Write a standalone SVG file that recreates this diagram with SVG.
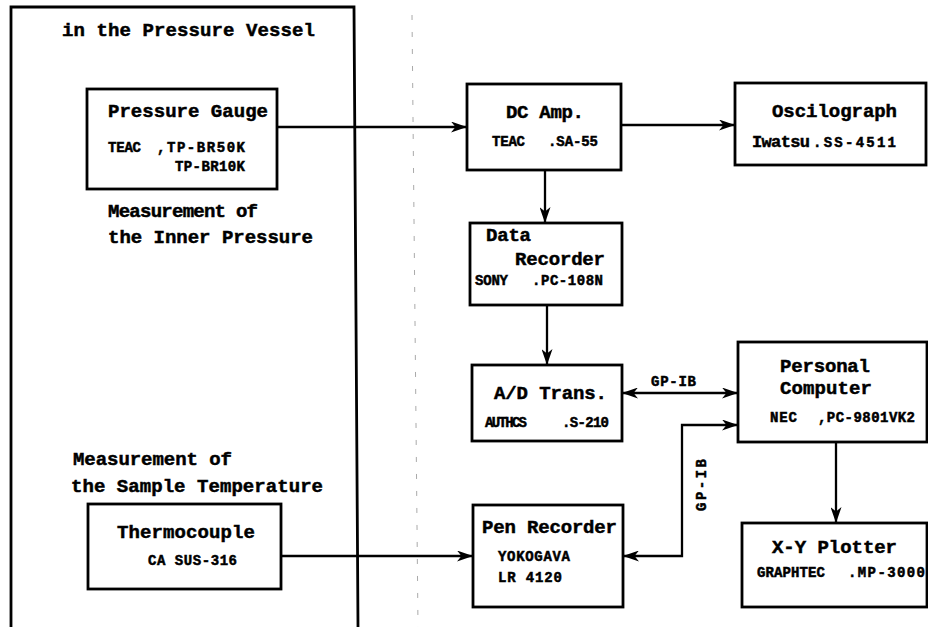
<svg xmlns="http://www.w3.org/2000/svg" width="928" height="627" viewBox="0 0 928 627">
<style>
.box{fill:none;stroke:#000;stroke-width:2.8}
.big{font-family:"Liberation Mono","Courier New",monospace;font-weight:bold;font-size:19px;fill:#000;stroke:#000;stroke-width:0.5}
.mid{font-family:"Liberation Mono","Courier New",monospace;font-weight:bold;font-size:17px;fill:#000;stroke:#000;stroke-width:0.5}
.small{font-family:"Liberation Mono","Courier New",monospace;font-weight:bold;font-size:14px;fill:#000;stroke:#000;stroke-width:0.5}
.wire{fill:none;stroke:#000;stroke-width:2.3}
.arr{marker-end:url(#ah)}
.both{marker-start:url(#ah);marker-end:url(#ah)}
</style>
<defs>
<marker id="ah" markerUnits="userSpaceOnUse" markerWidth="17" markerHeight="11" refX="16" refY="5.5" orient="auto-start-reverse">
<path d="M0,0 L16,5.5 L0,11 L4.5,5.5 z" fill="#000"/>
</marker>
</defs>
<rect width="928" height="627" fill="#fff"/>
<path d="M412,15 L418,627" stroke="#aaa" stroke-width="1" stroke-dasharray="5 12" fill="none"/>
<g id="vessel">
<path class="box" d="M11,627 V7 H354 L358,627"/>
<text class="big" x="62" y="36" textLength="253" lengthAdjust="spacing">in the Pressure Vessel</text>
<text class="big" x="108" y="217" textLength="150" lengthAdjust="spacing">Measurement of</text>
<text class="big" x="108" y="243" textLength="205" lengthAdjust="spacing">the Inner Pressure</text>
<text class="big" x="73" y="465" textLength="159" lengthAdjust="spacing">Measurement of</text>
<text class="big" x="71" y="492" textLength="252" lengthAdjust="spacing">the Sample Temperature</text>
</g>
<g id="pressure-gauge">
<rect class="box" x="87" y="89" width="190" height="100"/>
<text class="big" x="108" y="117" textLength="160" lengthAdjust="spacing">Pressure Gauge</text>
<text class="small" x="108" y="152" textLength="33" lengthAdjust="spacing">TEAC</text>
<text class="small" x="157" y="152" textLength="88" lengthAdjust="spacing">,TP-BR50K</text>
<text class="small" x="175" y="171" textLength="70" lengthAdjust="spacing">TP-BR10K</text>
</g>
<g id="thermocouple">
<rect class="box" x="88" y="504" width="193" height="85"/>
<text class="big" x="117" y="538" textLength="138" lengthAdjust="spacing">Thermocouple</text>
<text class="small" x="148" y="565" textLength="89" lengthAdjust="spacing">CA SUS-316</text>
</g>
<g id="dc-amp">
<rect class="box" x="467" y="84" width="154" height="86"/>
<text class="big" x="506" y="118" textLength="78" lengthAdjust="spacing">DC Amp.</text>
<text class="small" x="492" y="146" textLength="33" lengthAdjust="spacing">TEAC</text>
<text class="small" x="548" y="146" textLength="50" lengthAdjust="spacing">.SA-55</text>
</g>
<g id="oscilograph">
<rect class="box" x="735" y="83" width="191" height="82"/>
<text class="big" x="772" y="117" textLength="125" lengthAdjust="spacing">Oscilograph</text>
<text class="mid" x="752" y="147" textLength="58" lengthAdjust="spacing">Iwatsu</text>
<text class="small" x="813" y="147" textLength="83" lengthAdjust="spacing">.SS-4511</text>
</g>
<g id="data-recorder">
<rect class="box" x="470" y="223" width="152" height="82"/>
<text class="big" x="486" y="241" textLength="45" lengthAdjust="spacing">Data</text>
<text class="big" x="515" y="265" textLength="90" lengthAdjust="spacing">Recorder</text>
<text class="small" x="475" y="285" textLength="33" lengthAdjust="spacing">SONY</text>
<text class="small" x="532" y="285" textLength="71" lengthAdjust="spacing">.PC-108N</text>
</g>
<g id="ad-trans">
<rect class="box" x="472" y="365" width="150" height="76"/>
<text class="big" x="494" y="399" textLength="113" lengthAdjust="spacing">A/D Trans.</text>
<text class="small" x="485" y="427" textLength="42" lengthAdjust="spacing">AUTHCS</text>
<text class="small" x="562" y="427" textLength="47" lengthAdjust="spacing">.S-210</text>
</g>
<g id="personal-computer">
<rect class="box" x="738" y="342" width="189" height="100"/>
<text class="big" x="780" y="372" textLength="90" lengthAdjust="spacing">Personal</text>
<text class="big" x="780" y="394" textLength="92" lengthAdjust="spacing">Computer</text>
<text class="small" x="770" y="422" textLength="27" lengthAdjust="spacing">NEC</text>
<text class="small" x="818" y="422" textLength="97" lengthAdjust="spacing">,PC-9801VK2</text>
</g>
<g id="pen-recorder">
<rect class="box" x="473" y="505" width="150" height="102"/>
<text class="big" x="482" y="533" textLength="135" lengthAdjust="spacing">Pen Recorder</text>
<text class="small" x="498" y="561" textLength="72" lengthAdjust="spacing">YOKOGAVA</text>
<text class="small" x="498" y="582" textLength="64" lengthAdjust="spacing">LR 4120</text>
</g>
<g id="xy-plotter">
<rect class="box" x="742" y="523" width="185" height="84"/>
<text class="big" x="772" y="553" textLength="125" lengthAdjust="spacing">X-Y Plotter</text>
<text class="small" x="757" y="577" textLength="68" lengthAdjust="spacing">GRAPHTEC</text>
<text class="small" x="848" y="577" textLength="77" lengthAdjust="spacing">.MP-3000</text>
</g>
<g id="connectors">
<path class="wire arr" d="M277,127 H467"/>
<path class="wire arr" d="M621,125 H735"/>
<path class="wire arr" d="M545,170 V223"/>
<path class="wire arr" d="M547,305 V365"/>
<path class="wire both" d="M622,393 H738"/>
<path class="wire both" d="M623,556 H682 V425 H738"/>
<path class="wire arr" d="M281,556 H473"/>
<path class="wire arr" d="M836,442 V523"/>
<text class="small" x="651" y="386" textLength="45" lengthAdjust="spacing">GP-IB</text>
<text class="small" transform="translate(706,485) rotate(-90)" text-anchor="middle" textLength="52" lengthAdjust="spacing">GP-IB</text>
</g>
</svg>
